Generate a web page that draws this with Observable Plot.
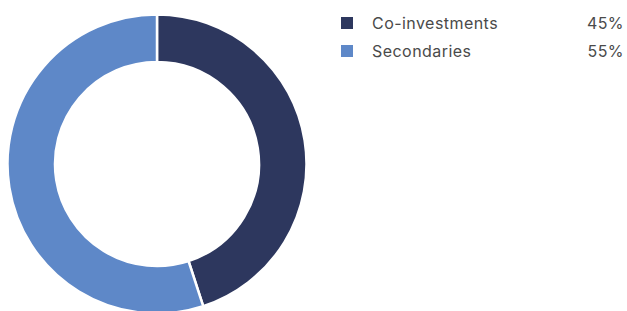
<!DOCTYPE html>
<html><head><meta charset="utf-8">
<script src="https://cdn.jsdelivr.net/npm/d3@7"></script>
<script src="https://cdn.jsdelivr.net/npm/@observablehq/plot@0.6"></script>
<style>
body{margin:0;background:#fff;font-family:Inter,"Liberation Sans",sans-serif;}
#wrap{position:relative;width:627px;height:311px;overflow:hidden;}
#legend{position:absolute;left:341px;top:9px;width:283px;}
.row{display:flex;align-items:center;height:28px;color:#4a4a4a;font-size:16px;letter-spacing:0.45px;}
.sw{width:12px;height:12px;margin-right:19px;}
.lab{flex:1;}
</style></head><body>
<div id="wrap"><div id="chart"></div><div id="legend"></div></div>
<script>
const categories = ["Co-investments", "Secondaries"];
const values = [45, 55];
const colors = ["#2d375e", "#5e88c8"];

const data = categories.map((c, i) => ({category: c, value: values[i]}));

function donut(index, scales, vals, dims) {
  const color = scales.color;
  const cx = 157, cy = 164, R = 149.5, r = 102;
  const pie = d3.pie().sort(null).value(d => d.value)(data);
  const arc = d3.arc().innerRadius(r).outerRadius(R);
  const g = d3.create("svg:g").attr("transform", `translate(${cx},${cy})`);
  g.selectAll("path").data(pie).join("path")
    .attr("d", arc)
    .attr("fill", d => color(d.data.category))
    .attr("stroke", "#fff").attr("stroke-width", 2.5).attr("stroke-linejoin", "miter");
  return g.node();
}

const chart = Plot.plot({
  width: 627, height: 311, margin: 0,
  x: {axis: null}, y: {axis: null},
  color: {domain: categories, range: colors},
  marks: [donut]
});
document.getElementById("chart").append(chart);

const leg = d3.select("#legend");
data.forEach((d, i) => {
  const row = leg.append("div").attr("class", "row");
  row.append("div").attr("class", "sw").style("background", colors[i]);
  row.append("div").attr("class", "lab").text(d.category);
  row.append("div").text(d.value + "%");
});
</script></body></html>
